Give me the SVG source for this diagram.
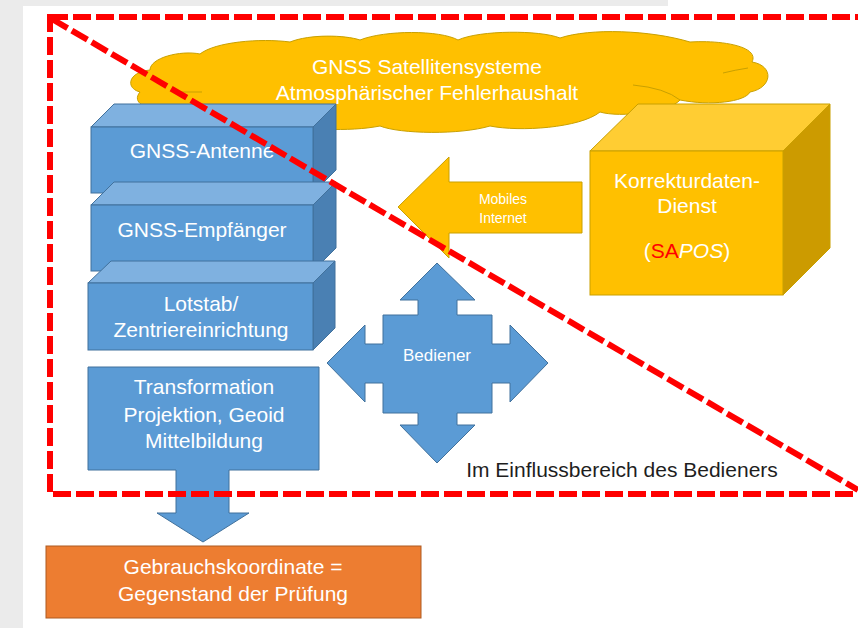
<svg xmlns="http://www.w3.org/2000/svg" width="858" height="628" viewBox="0 0 858 628">
<style>
text{font-family:"Liberation Sans",Arial,sans-serif;text-anchor:middle}
.w{fill:#ffffff}
.t21{font-size:21px}
.bf{fill:#5b9bd5;stroke:#41719c;stroke-width:1}
.bt{fill:#7fb1e0;stroke:#41719c;stroke-width:1}
.bs{fill:#4a80b3;stroke:#41719c;stroke-width:1}
.yf{fill:#ffc000;stroke:#c9a000;stroke-width:1}
.yt{fill:#ffcd33;stroke:#c9a000;stroke-width:1}
.ys{fill:#cc9b00;stroke:#c9a000;stroke-width:1}
.red{fill:none;stroke:#ff0000;stroke-width:6;stroke-dasharray:18 5}
</style>
<rect x="0" y="0" width="858" height="628" fill="#ffffff"/>
<rect x="0" y="0" width="23" height="628" fill="#ebebeb"/>
<rect x="0" y="0" width="668" height="6" fill="#ebebeb"/>

<g id="cloud">
<path d="M140,92 C125,88 128,72 150,70 C150,58 180,50 200,54 C215,42 260,38 290,42 C310,34 345,35 360,40 C385,30 440,30 458,40 C480,30 540,30 560,38 C590,28 650,30 690,42 C720,40 760,46 752,62 C775,66 772,88 750,92 C745,102 710,106 680,100 C670,112 620,118 600,112 C580,128 520,132 490,126 C460,135 400,134 380,126 C350,132 300,130 280,122 C240,128 180,120 175,110 C150,112 130,104 140,92 Z" fill="#ffc000" stroke="#c9a000" stroke-width="1"/>
<path d="M180,92 H202 M723,73 Q735,70 748,68 M633,85 Q665,88 680,100" fill="none" stroke="#c9a000" stroke-width="1"/>
<text class="w t21" x="427" y="74">GNSS Satellitensysteme</text>
<text class="w t21" x="427" y="100">Atmosphärischer Fehlerhaushalt</text>
</g>

<g id="antenne">
<polygon class="bt" points="91,127 114,104 336,104 313,127"/>
<polygon class="bs" points="313,127 336,104 336,170 313,193"/>
<rect class="bf" x="91" y="127" width="222" height="66"/>
<text class="w t21" x="202" y="158">GNSS-Antenne</text>
</g>

<g id="empfaenger">
<polygon class="bt" points="91,205 114,182 336,182 313,205"/>
<polygon class="bs" points="313,205 336,182 336,248 313,271"/>
<rect class="bf" x="91" y="205" width="222" height="66"/>
<text class="w t21" x="202" y="237">GNSS-Empfänger</text>
</g>

<g id="lotstab">
<polygon class="bt" points="88,283 111,261 335,261 313,283"/>
<polygon class="bs" points="313,283 335,261 335,328 313,350"/>
<rect class="bf" x="88" y="283" width="225" height="67"/>
<text class="w t21" x="201" y="311">Lotstab/</text>
<text class="w t21" x="201" y="337">Zentriereinrichtung</text>
</g>

<g id="transformation">
<path class="bf" d="M88,367 H319 V470 H229 V513 H249 L203,542 L157,513 H176 V470 H88 Z"/>
<text class="w t21" x="204" y="394">Transformation</text>
<text class="w t21" x="204" y="422">Projektion, Geoid</text>
<text class="w t21" x="204" y="448">Mittelbildung</text>
</g>

<g id="gebrauchskoordinate">
<rect x="46" y="546" width="375" height="72" fill="#ed7d31" stroke="#ae5a21" stroke-width="1"/>
<text class="w t21" x="233" y="574">Gebrauchskoordinate =</text>
<text class="w t21" x="233" y="601">Gegenstand der Prüfung</text>
</g>

<g id="korrekturdienst">
<polygon class="yt" points="590,151 638,104 830,104 783,151"/>
<polygon class="ys" points="783,151 830,104 830,248 783,295"/>
<rect class="yf" x="590" y="151" width="193" height="144"/>
<text class="w t21" x="687" y="188">Korrekturdaten-</text>
<text class="w t21" x="687" y="213">Dienst</text>
<text class="t21" x="687" y="258"><tspan class="w">(</tspan><tspan fill="#ff0000">SA</tspan><tspan class="w" font-style="italic">POS</tspan><tspan class="w">)</tspan></text>
</g>

<g id="bediener">
<path class="bf" d="M437,263 L475,300 L457,300 L457,315 L492,315 L492,344 L510,344 L510,325 L548,363 L510,402 L510,383 L492,383 L492,413 L457,413 L457,425 L475,425 L437,463 L400,425 L418,425 L418,413 L383,413 L383,383 L365,383 L365,402 L327,363 L365,325 L365,344 L383,344 L383,315 L418,315 L418,300 L400,300 Z"/>
<text class="w" x="437" y="361" font-size="17">Bediener</text>
</g>

<g id="connectors">
<path class="yf" d="M398,207 L449,157 L449,182 L582,182 L582,233 L449,233 L449,258 Z"/>
<text class="w" x="503" y="204" font-size="14">Mobiles</text>
<text class="w" x="503" y="223" font-size="14">Internet</text>
</g>

<g id="einflussbereich">
<rect class="red" x="50" y="17" width="830" height="477"/>
<line class="red" x1="52" y1="19" x2="858" y2="490"/>
<text x="622" y="477" font-size="21" fill="#1e1e1e">Im Einflussbereich des Bedieners</text>
</g>
</svg>
